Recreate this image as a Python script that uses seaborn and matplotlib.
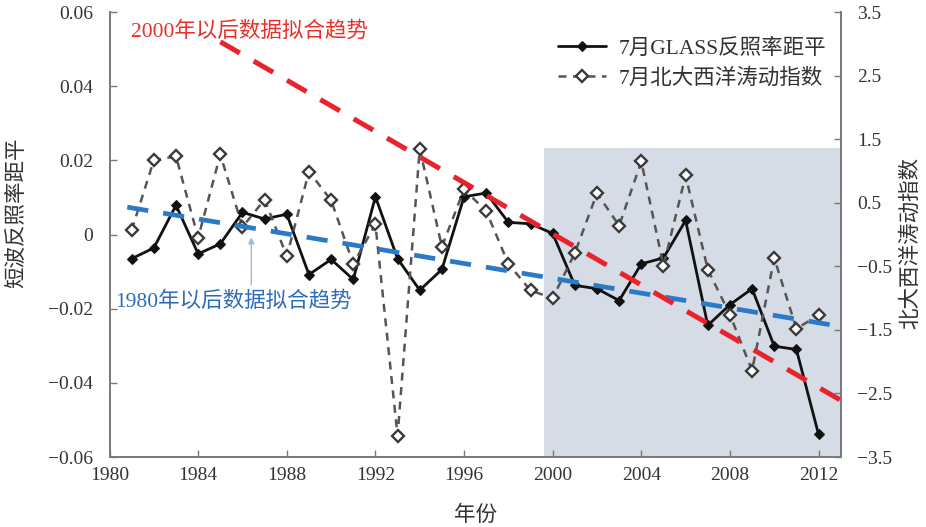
import numpy as np
import pandas as pd
import matplotlib
matplotlib.use("Agg")
import matplotlib.pyplot as plt
import seaborn as sns

# July GLASS shortwave albedo anomaly and July NAO index, 1981-2012
years = list(range(1981, 2013))
glass_anomaly = [-0.0065, -0.0036, 0.0079, -0.0052, -0.0025, 0.0060, 0.0042, 0.0055,
                 -0.0108, -0.0067, -0.0121, 0.0102, -0.0065, -0.0150, -0.0094, 0.0102,
                 0.0112, 0.0033, 0.0029, 0.0003, -0.0137, -0.0146, -0.0178, -0.0079,
                 -0.0063, 0.0038, -0.0245, -0.0189, -0.0146, -0.0301, -0.0310, -0.0539]
nao_index = [0.07, 1.17, 1.23, -0.05, 1.26, 0.12, 0.55, -0.34,
             0.99, 0.54, -0.46, 0.16, -3.17, 1.35, -0.19, 0.71,
             0.37, -0.46, -0.88, -1.00, -0.29, 0.65, 0.14, 1.15,
             -0.49, 0.93, -0.55, -1.26, -2.14, -0.37, -1.48, -1.27]

# Linear trend lines (start/end year, start/end anomaly)
trend_1980_years = [1980.8, 2013.0]
trend_1980_values = [0.0074, -0.0248]
trend_2000_years = [1985.0, 2013.15]
trend_2000_values = [0.0520, -0.0452]

# Highlighted period after 2000
shade_years = [1999.6, 2012.95]
shade_top = 0.0234

left_ticks = [-0.06, -0.04, -0.02, 0, 0.02, 0.04, 0.06]
left_ticklabels = ["\u22120.06", "\u22120.04", "\u22120.02", "0", "0.02", "0.04", "0.06"]
right_ticks = [-3.5, -2.5, -1.5, -0.5, 0.5, 1.5, 2.5, 3.5]
right_ticklabels = ["\u22123.5", "\u22122.5", "\u22121.5", "\u22120.5", "0.5", "1.5", "2.5", "3.5"]
x_ticks = list(range(1980, 2013, 4))

label_glass = "7月GLASS反照率距平"
label_nao = "7月北大西洋涛动指数"
label_left = "短波反照率距平"
label_right = "北大西洋涛动指数"
label_x = "年份"
text_2000 = "2000年以后数据拟合趋势"
text_1980 = "1980年以后数据拟合趋势"

sns.set_style("ticks")
fonts = ["Liberation Serif", "Noto Sans CJK SC", "DejaVu Sans"]
plt.rcParams["font.family"] = fonts
plt.rcParams["axes.unicode_minus"] = True

df = pd.DataFrame({"year": years, "glass": glass_anomaly, "nao": nao_index})

fig = plt.figure(figsize=(9.26, 5.27), dpi=100)
ax = fig.add_axes([0.1183, 0.1328, 0.7896, 0.8442])
ax2 = ax.twinx()

text_color = "#333333"
spine_color = "#7a7a7a"
cjk_size = 15.5

# shaded post-2000 block
ax.fill_between(shade_years, [-0.06, -0.06], [shade_top, shade_top],
                color="#d5dce6", lw=0, zorder=0)

sns.lineplot(data=df, x="year", y="glass", ax=ax, color="#111111", lw=2.0,
             marker="D", markersize=5, markeredgecolor="#111111",
             label=label_glass, legend=False, zorder=3)
sns.lineplot(data=df, x="year", y="nao", ax=ax2, color="#555555", lw=1.8,
             linestyle=(0, (3.2, 2.6)), marker="D", markersize=6,
             markerfacecolor="white", markeredgecolor="#3a3a3a", markeredgewidth=1.7,
             label=label_nao, legend=False, zorder=3)

# trend lines on the albedo axis, drawn on the top axes for visibility
def to_right(v):
    return np.asarray(v) / 0.06 * 3.5

ax2.plot(trend_1980_years, to_right(trend_1980_values), color="#2a7ac8", lw=3.4,
         dashes=(4.5, 3.2), zorder=4)
ax2.plot(trend_2000_years, to_right(trend_2000_values), color="#e8232b", lw=3.6,
         dashes=(4.5, 3.2), zorder=4, clip_on=False)

ax.set_xlim(1980, 2013)
ax.set_ylim(-0.06, 0.06)
ax2.set_ylim(-3.5, 3.5)

ax.set_xticks(x_ticks)
ax.set_xticklabels([str(y) for y in x_ticks])
ax.set_yticks(left_ticks)
ax.set_yticklabels(left_ticklabels)
ax2.set_yticks(right_ticks)
ax2.set_yticklabels(right_ticklabels)

for a in (ax, ax2):
    a.tick_params(direction="in", length=5, width=1.0, color=spine_color,
                  labelsize=14, labelcolor=text_color)
    for s in a.spines.values():
        s.set_color(spine_color)
        s.set_linewidth(1.3)
    a.spines["top"].set_visible(False)
ax.tick_params(axis="x", pad=7)
ax.tick_params(axis="y", pad=12)
ax2.tick_params(axis="y", pad=12)

ax.set_xlabel(label_x, fontsize=cjk_size, color=text_color)
ax.set_ylabel(label_left, fontsize=cjk_size, color=text_color)
ax2.set_ylabel(label_right, fontsize=cjk_size, color=text_color, rotation=90)
ax.xaxis.set_label_coords(0.5, -0.11)
ax.yaxis.set_label_coords(-0.112, 0.55)
ax2.yaxis.set_label_coords(1.082, 0.48)

# annotations
ax.text(1986.3, 0.0547, text_2000, color="#e8302a", fontsize=cjk_size,
        ha="center", va="center")
ax.text(1985.6, -0.0181, text_1980, color="#2f6cb8", fontsize=cjk_size,
        ha="center", va="center")
ax.annotate("", xy=(1986.4, 0.0), xytext=(1986.4, -0.0143),
            arrowprops=dict(arrowstyle="-|>", color="#9fbbd8", lw=1.0,
                            mutation_scale=9))

h1, l1 = ax.get_legend_handles_labels()
h2, l2 = ax2.get_legend_handles_labels()
leg = ax2.legend(h1 + h2, l1 + l2, loc="upper right", bbox_to_anchor=(0.995, 0.965),
                 frameon=False, fontsize=cjk_size, handlelength=2.2, handletextpad=0.6,
                 labelspacing=0.45, borderpad=0)
for t in leg.get_texts():
    t.set_color(text_color)

fig.savefig("out.png", dpi=100)
